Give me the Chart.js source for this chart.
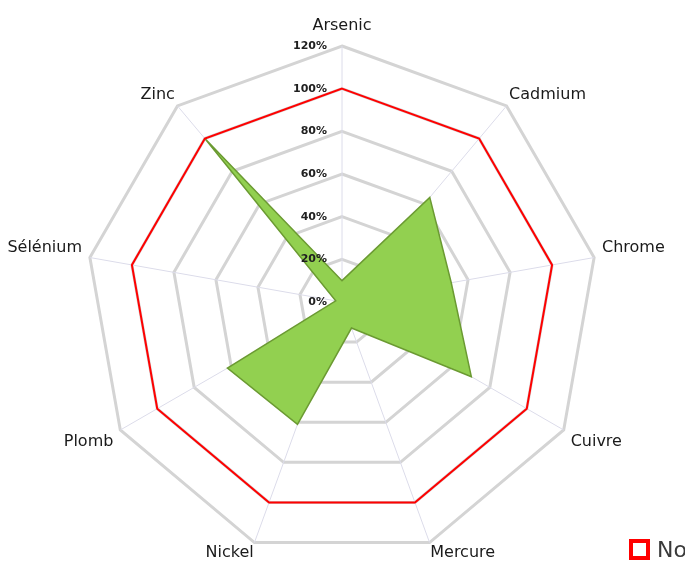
<!DOCTYPE html>
<html>
<head>
<meta charset="utf-8">
<script src="https://cdn.jsdelivr.net/npm/chart.js@4.4.0/dist/chart.umd.min.js"></script>
<style>
  html, body { margin: 0; padding: 0; background: #fff; overflow: hidden; }
  #wrap { position: relative; width: 685px; height: 573px; }
  #legend { position: absolute; left: 629px; top: 537px; display: flex; white-space: nowrap;
            font-family: 'DejaVu Sans'; font-size: 22px; color: #3a3a3a; }
  .item { display: flex; align-items: center; margin-right: 20px; }
  .box { width: 13px; height: 13px; border: 4px solid; margin-right: 7px; }
</style>
</head>
<body>
<div id="wrap">
  <canvas id="chart" width="685" height="573"></canvas>
  <div id="legend"></div>
</div>
<script>
// categories (axes)
const categories = ['Arsenic', 'Cadmium', 'Chrome', 'Cuivre', 'Mercure', 'Nickel', 'Plomb', 'Sélénium', 'Zinc'];
// series values, in %
const normeValues = [100, 100, 100, 100, 100, 100, 100, 100, 100];
const teneurValues = [10, 64, 52, 70, 13, 61, 62, 3, 100];
// radial tick labels
const tickValues = [0, 20, 40, 60, 80, 100, 120];

// tick labels sit left of the vertical axis, over the data
const tickLabels = {
  id: 'tickLabels',
  afterDatasetsDraw(chart) {
    const scale = chart.scales.r;
    const ctx = chart.ctx;
    ctx.save();
    ctx.font = 'bold 11px "DejaVu Sans"';
    ctx.fillStyle = '#202020';
    ctx.textAlign = 'right';
    ctx.textBaseline = 'middle';
    tickValues.forEach(v => {
      const d = scale.getDistanceFromCenterForValue(v);
      ctx.fillText(v + '%', scale.xCenter - 15, scale.yCenter - d);
    });
    ctx.restore();
  }
};

// label gap per axis: top label sits higher, bottom and upper-diagonal ones closer
function labelPadding(ctx) {
  const i = ctx.index;
  if (i === 0) return 12;
  if (i === 4 || i === 5) return 2;
  if (i === 1 || i === 8) return 4;
  return 8;
}

const chart = new Chart(document.getElementById('chart'), {
  type: 'radar',
  data: {
    labels: categories,
    datasets: [
      {
        label: 'Norme',
        data: normeValues,
        borderColor: '#ff0000',
        backgroundColor: '#ffffff',
        borderWidth: 2,
        fill: false,
        pointRadius: 0
      },
      {
        label: 'Teneur',
        data: teneurValues,
        borderColor: '#6b9a32',
        backgroundColor: '#92d050',
        borderWidth: 1.5,
        fill: true,
        pointRadius: 0
      }
    ]
  },
  options: {
    responsive: false,
    animation: false,
    layout: { padding: { top: 4, bottom: 0, left: 0, right: 12 } },
    elements: { line: { tension: 0 } },
    plugins: {
      legend: { display: false },
      tooltip: { enabled: false }
    },
    scales: {
      r: {
        min: 0,
        max: 120,
        ticks: { display: false, stepSize: 20 },
        grid: { color: '#d4d4d4', lineWidth: 3 },
        angleLines: { color: '#dcdcea', lineWidth: 1 },
        pointLabels: {
          font: { family: 'DejaVu Sans', size: 16, lineHeight: 1 },
          color: '#1a1a1a',
          padding: labelPadding
        }
      }
    }
  },
  plugins: [tickLabels]
});

// legend built from the datasets, runs off the right edge like the original
const legend = document.getElementById('legend');
chart.data.datasets.forEach(ds => {
  const item = document.createElement('div');
  item.className = 'item';
  const box = document.createElement('span');
  box.className = 'box';
  box.style.borderColor = ds.borderColor;
  box.style.background = ds.fill ? ds.backgroundColor : '#fff';
  const txt = document.createElement('span');
  txt.textContent = ds.label;
  item.appendChild(box);
  item.appendChild(txt);
  legend.appendChild(item);
});
</script>
</body>
</html>
